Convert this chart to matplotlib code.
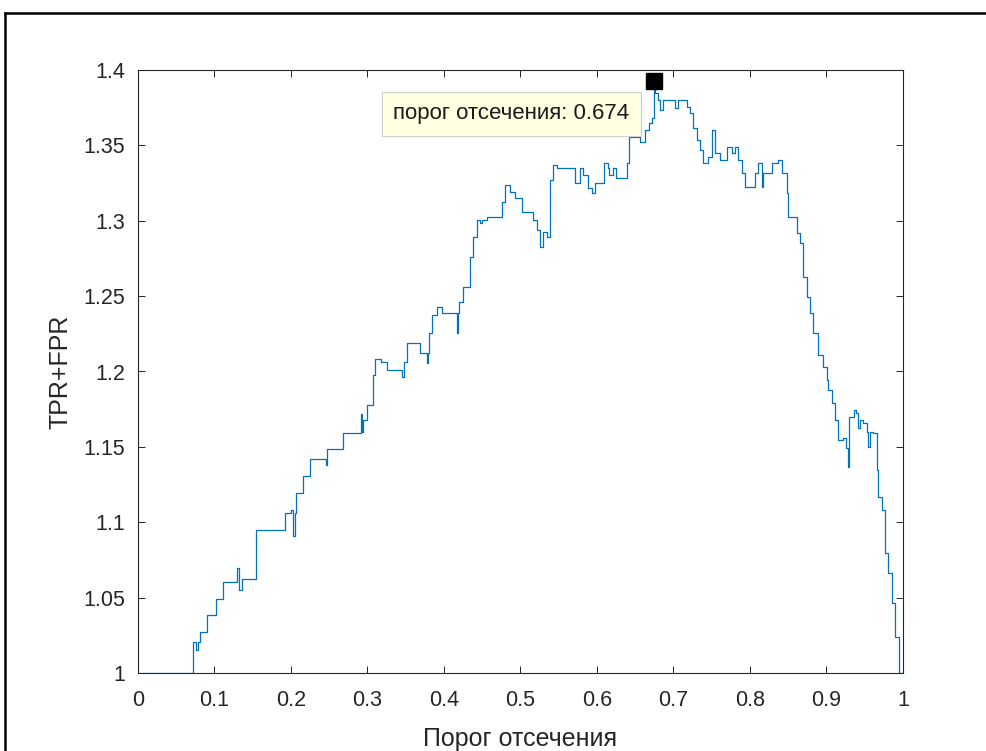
import matplotlib

matplotlib.use("Agg")
import matplotlib.pyplot as plt
import numpy as np
from matplotlib.lines import Line2D
from matplotlib.ticker import FormatStrFormatter

plt.rcParams["font.family"] = ["Liberation Sans", "DejaVu Sans"]

# threshold -> TPR+FPR (steps-post)
threshold = [
    0.0, 0.0723, 0.0760, 0.0789, 0.0810, 0.0906, 0.1020, 0.1107, 0.1300, 0.1325,
    0.1355, 0.1542, 0.1922, 0.2000, 0.2030, 0.2050, 0.2065, 0.2153, 0.2248, 0.2455,
    0.2475, 0.2684, 0.2910, 0.2930, 0.2945, 0.2998, 0.3068, 0.3100, 0.3180, 0.3251,
    0.3447, 0.3480, 0.3512, 0.3686, 0.3775, 0.3790, 0.3808, 0.3839, 0.3904, 0.3970,
    0.4166, 0.4185, 0.4200, 0.4244, 0.4340, 0.4384, 0.4427, 0.4470, 0.4500, 0.4558,
    0.4754, 0.4797, 0.4863, 0.4928, 0.5015, 0.5168, 0.5212, 0.5255, 0.5298, 0.5340,
    0.5386, 0.5429, 0.5473, 0.5712, 0.5778, 0.5821, 0.5887, 0.5930, 0.5974, 0.6092,
    0.6140, 0.6160, 0.6213, 0.6250, 0.6388, 0.6423, 0.6562, 0.6627, 0.6680, 0.6715,
    0.6740, 0.6758, 0.6800, 0.6824, 0.6867, 0.7020, 0.7063, 0.7172, 0.7216, 0.7259,
    0.7303, 0.7346, 0.7390, 0.7455, 0.7500, 0.7542, 0.7608, 0.7695, 0.7761, 0.7800,
    0.7847, 0.7891, 0.7935, 0.8065, 0.8109, 0.8153, 0.8174, 0.8283, 0.8370, 0.8414,
    0.8480, 0.8500, 0.8610, 0.8654, 0.8697, 0.8741, 0.8784, 0.8828, 0.8893, 0.8958,
    0.9002, 0.9024, 0.9068, 0.9111, 0.9155, 0.9212, 0.9255, 0.9285, 0.9298, 0.9364,
    0.9390, 0.9416, 0.9438, 0.9480, 0.9525, 0.9547, 0.9569, 0.9612, 0.9656, 0.9678,
    0.9721, 0.9765, 0.9808, 0.9852, 0.9895, 0.9952, 1.0,
]
tpr_fpr = [
    1.0, 1.0208, 1.0150, 1.0208, 1.0274, 1.0385, 1.0489, 1.0606, 1.0695, 1.0550,
    1.0621, 1.0949, 1.1063, 1.1080, 1.0910, 1.1063, 1.1196, 1.1307, 1.1417, 1.1380,
    1.1484, 1.1590, 1.1720, 1.1600, 1.1678, 1.1778, 1.1977, 1.2080, 1.2064, 1.2010,
    1.1965, 1.2064, 1.2187, 1.2125, 1.2054, 1.2125, 1.2253, 1.2375, 1.2430, 1.2386,
    1.2253, 1.2386, 1.2463, 1.2563, 1.2762, 1.2894, 1.3005, 1.2983, 1.3005, 1.3027,
    1.3127, 1.3237, 1.3193, 1.3149, 1.3060, 1.3005, 1.2939, 1.2828, 1.2927, 1.2894,
    1.3270, 1.3370, 1.3348, 1.3248, 1.3348, 1.3303, 1.3215, 1.3182, 1.3248, 1.3381,
    1.3348, 1.3303, 1.3348, 1.3281, 1.3381, 1.3558, 1.3520, 1.3602, 1.3650, 1.3680,
    1.3924, 1.3845, 1.3800, 1.3735, 1.3802, 1.3746, 1.3802, 1.3757, 1.3713, 1.3613,
    1.3536, 1.3469, 1.3381, 1.3425, 1.3602, 1.3447, 1.3403, 1.3491, 1.3447, 1.3491,
    1.3403, 1.3314, 1.3226, 1.3314, 1.3381, 1.3226, 1.3314, 1.3381, 1.3403, 1.3314,
    1.3181, 1.3027, 1.2916, 1.2850, 1.2629, 1.2496, 1.2386, 1.2253, 1.2109, 1.2032,
    1.1944, 1.1877, 1.1789, 1.1678, 1.1546, 1.1557, 1.1490, 1.1369, 1.1700, 1.1745,
    1.1723, 1.1623, 1.1678, 1.1656, 1.1600, 1.1501, 1.1600, 1.1590, 1.1347, 1.1170,
    1.1081, 1.0794, 1.0661, 1.0462, 1.0241, 1.0000, 1.0,
]

x_ticks = [0, 0.1, 0.2, 0.3, 0.4, 0.5, 0.6, 0.7, 0.8, 0.9, 1]
y_ticks = [1, 1.05, 1.1, 1.15, 1.2, 1.25, 1.3, 1.35, 1.4]

dark = "#262626"
fig = plt.figure(figsize=(9.87, 7.51), dpi=100)
ax = fig.add_axes([138 / 987, 78 / 751, 765 / 987, 603 / 751])

ax.plot(threshold, tpr_fpr, color="#0072BD", linewidth=0.9, drawstyle="steps-post")

# data tip at the maximum
best = int(np.argmax(tpr_fpr))
best_x, best_y = threshold[best], tpr_fpr[best]
ax.plot(best_x, best_y, marker="s", markersize=12, color="black", zorder=5)
ax.annotate(
    f"порог отсечения: {best_x:.3f}",
    xy=(best_x, best_y),
    xytext=(-24, -22),
    textcoords="offset pixels",
    ha="right",
    va="top",
    fontsize=16,
    color="#1a1a1a",
    bbox=dict(boxstyle="square,pad=0.5", facecolor="#FFFFE1", edgecolor="#d0d0d0", linewidth=0.8),
    zorder=6,
)

ax.set_xlim(0, 1)
ax.set_ylim(1, 1.4)
ax.set_xticks(x_ticks)
ax.set_yticks(y_ticks)
ax.xaxis.set_major_formatter(FormatStrFormatter("%g"))
ax.yaxis.set_major_formatter(FormatStrFormatter("%g"))
ax.tick_params(
    direction="in", length=5, width=0.7, color=dark, labelcolor=dark,
    labelsize=15.5, top=True, right=True,
)
ax.tick_params(axis="x", pad=12)
ax.tick_params(axis="y", pad=9)
for spine in ax.spines.values():
    spine.set_color(dark)
    spine.set_linewidth(0.8)

ax.set_xlabel("Порог отсечения", fontsize=18, color=dark)
ax.set_ylabel("TPR+FPR", fontsize=18, color=dark)
ax.xaxis.set_label_coords(0.5, -0.09)
ax.yaxis.set_label_coords(-0.086, 0.5)

# screenshot frame: only the top and left edges are visible
fig.add_artist(Line2D([5 / 987, 5 / 987], [0, 1 - 13 / 751], color="black", linewidth=1.8))
fig.add_artist(Line2D([5 / 987, 1], [1 - 13 / 751, 1 - 13 / 751], color="black", linewidth=1.8))

plt.savefig("out.png", dpi=100)
plt.close(fig)
